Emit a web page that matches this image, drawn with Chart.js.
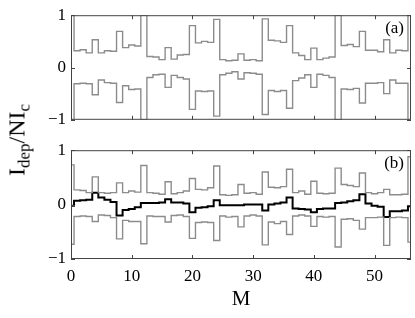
<!DOCTYPE html>
<html>
<head>
<meta charset="utf-8">
<script src="https://cdn.jsdelivr.net/npm/chart.js@4"></script>
<style>
  html, body { margin: 0; padding: 0; background: #fff; }
  #wrap { position: relative; width: 415px; height: 318px; overflow: hidden; }
  #panelA { position: absolute; left: 0; top: 0; }
  #panelB { position: absolute; left: 0; top: 135px; }
  #ylab {
    position: absolute; left: 19px; top: 140px;
    transform: translate(-50%, -50%) rotate(-90deg);
    font: 24px "Liberation Serif", serif; white-space: nowrap; color: #000;
  }
  #ylab sub { font-size: 17px; vertical-align: -5px; }
</style>
</head>
<body>
<div id="wrap">
  <canvas id="panelA" width="415" height="135"></canvas>
  <canvas id="panelB" width="415" height="183"></canvas>
  <div id="ylab">I<sub>dep</sub>/NI<sub>c</sub></div>
</div>
<script>
// M values (x axis)
var M = [0, 1, 2, 3, 4, 5, 6, 7, 8, 9, 10, 11, 12, 13, 14, 15, 16, 17, 18, 19, 20,
         21, 22, 23, 24, 25, 26, 27, 28, 29, 30, 31, 32, 33, 34, 35, 36, 37, 38, 39, 40,
         41, 42, 43, 44, 45, 46, 47, 48, 49, 50, 51, 52, 53, 54, 55, 56];

// panel (a)
var aUpper = [1.00, 0.32, 0.34, 0.28, 0.53, 0.28, 0.32, 0.31, 0.69, 0.38, 0.43, 0.41, 1.00,
              0.21, 0.20, 0.15, 0.38, 0.16, 0.24, 0.25, 0.80, 0.47, 0.50, 0.48, 0.92,
              0.15, 0.13, 0.14, 0.26, 0.14, 0.15, 0.13, 0.93, 0.52, 0.51, 0.48, 0.80,
              0.28, 0.23, 0.15, 0.37, 0.15, 0.18, 0.20, 1.00, 0.42, 0.44, 0.40, 0.69,
              0.33, 0.33, 0.30, 0.53, 0.28, 0.33, 0.32, 1.00];
var aLower = [-1.00, -0.31, -0.30, -0.31, -0.52, -0.24, -0.29, -0.30, -0.67, -0.35, -0.42, -0.41, -1.00,
              -0.19, -0.14, -0.13, -0.38, -0.15, -0.19, -0.22, -0.80, -0.45, -0.46, -0.45, -0.93,
              -0.14, -0.11, -0.08, -0.22, -0.10, -0.11, -0.13, -0.90, -0.44, -0.46, -0.44, -0.78,
              -0.25, -0.20, -0.14, -0.38, -0.13, -0.15, -0.19, -1.00, -0.41, -0.42, -0.40, -0.68,
              -0.30, -0.30, -0.29, -0.50, -0.24, -0.30, -0.30, -1.00];

// panel (b)
var bUpper = [0.73, 0.27, 0.26, 0.22, 0.51, 0.22, 0.21, 0.22, 0.40, 0.22, 0.25, 0.23, 0.72,
              0.22, 0.21, 0.19, 0.42, 0.20, 0.22, 0.25, 0.48, 0.28, 0.27, 0.31, 0.71,
              0.18, 0.17, 0.18, 0.37, 0.21, 0.22, 0.19, 0.60, 0.32, 0.31, 0.33, 0.65,
              0.22, 0.25, 0.19, 0.43, 0.21, 0.20, 0.21, 0.67, 0.37, 0.35, 0.33, 0.58,
              0.22, 0.20, 0.22, 0.28, 0.18, 0.18, 0.19, 0.88];
var bLower = [-0.73, -0.22, -0.21, -0.22, -0.31, -0.19, -0.20, -0.24, -0.63, -0.29, -0.31, -0.31, -0.72,
              -0.21, -0.22, -0.22, -0.32, -0.20, -0.19, -0.22, -0.62, -0.33, -0.32, -0.33, -0.66,
              -0.21, -0.23, -0.22, -0.41, -0.21, -0.19, -0.21, -0.74, -0.32, -0.35, -0.31, -0.55,
              -0.21, -0.19, -0.21, -0.40, -0.22, -0.23, -0.22, -0.78, -0.27, -0.26, -0.29, -0.45,
              -0.24, -0.24, -0.23, -0.75, -0.24, -0.23, -0.24, -0.69];
var bTotal = [-0.02, 0.07, 0.08, 0.09, 0.22, 0.13, 0.09, 0.05, -0.20, -0.10, -0.08, -0.05, 0.03,
              0.03, 0.03, 0.04, 0.10, 0.04, 0.04, 0.02, -0.14, -0.06, -0.05, -0.03, 0.08,
              -0.01, -0.01, -0.01, -0.01, 0.00, 0.00, 0.00, -0.11, 0.00, 0.02, 0.04, 0.13,
              -0.07, -0.08, -0.09, -0.14, -0.08, -0.07, -0.07, 0.03, 0.04, 0.06, 0.08, 0.19,
              0.02, -0.02, -0.04, -0.23, -0.12, -0.12, -0.11, -0.03];

var xTicks = { min: 0, max: 56, step: 10 };
var yTickLabels = { "-1": "\u22121", "0": "0", "1": "1" };

var serif = '"Liberation Serif", "DejaVu Serif", serif';
var gray = "#8c8c8c";

function pts(vals) {
    return M.map(function (m, i) { return { x: m, y: vals[i] }; });
}

function line(vals, color, width) {
    return {
        data: pts(vals),
        borderColor: color,
        borderWidth: width,
        stepped: "middle",
        pointRadius: 0,
        fill: false,
    };
}

// box round the plot with inward ticks, plus the panel tag
var frame = {
    id: "frame",
    afterDraw: function (chart, args, opts) {
        var ctx = chart.ctx, a = chart.chartArea;
        var sx = chart.scales.x, sy = chart.scales.y;
        ctx.save();
        ctx.strokeStyle = "#444";
        ctx.lineWidth = 1;
        ctx.strokeRect(a.left + 0.5, a.top + 0.5, a.right - a.left - 1, a.bottom - a.top - 1);
        ctx.beginPath();
        sx.ticks.forEach(function (t) {
            var px = Math.round(sx.getPixelForValue(t.value)) + 0.5;
            ctx.moveTo(px, a.bottom); ctx.lineTo(px, a.bottom - 4);
            ctx.moveTo(px, a.top); ctx.lineTo(px, a.top + 4);
        });
        sy.ticks.forEach(function (t) {
            var py = Math.round(sy.getPixelForValue(t.value)) + 0.5;
            ctx.moveTo(a.left, py); ctx.lineTo(a.left + 4, py);
            ctx.moveTo(a.right, py); ctx.lineTo(a.right - 4, py);
        });
        ctx.stroke();
        ctx.fillStyle = "#000";
        ctx.font = "17px " + serif;
        ctx.textAlign = "right";
        ctx.textBaseline = "top";
        ctx.fillText(opts.tag, a.right - 7, a.top + 5);
        ctx.restore();
    },
};

function makeChart(id, datasets, tag, showX, topPad, xHeight) {
    return new Chart(document.getElementById(id).getContext("2d"), {
        type: "line",
        data: { datasets: datasets },
        plugins: [frame],
        options: {
            responsive: false,
            animation: false,
            layout: { padding: { top: topPad, right: 4, left: 0, bottom: 0 } },
            plugins: { legend: { display: false }, tooltip: { enabled: false }, frame: { tag: tag } },
            scales: {
                x: {
                    type: "linear",
                    min: xTicks.min,
                    max: xTicks.max,
                    grid: { display: false, drawTicks: false },
                    border: { display: false },
                    ticks: {
                        display: showX,
                        stepSize: xTicks.step,
                        includeBounds: false,
                        color: "#000",
                        padding: 7,
                        maxRotation: 0,
                        font: { family: serif, size: 17 },
                    },
                    title: {
                        display: showX,
                        text: "M",
                        color: "#000",
                        padding: { top: 0, bottom: 6 },
                        font: { family: serif, size: 21 },
                    },
                    afterFit: function (s) { s.height = xHeight; },
                },
                y: {
                    min: -1,
                    max: 1,
                    grid: { display: false, drawTicks: false },
                    border: { display: false },
                    ticks: {
                        stepSize: 1,
                        color: "#000",
                        padding: 5,
                        font: { family: serif, size: 17 },
                        callback: function (v) { return yTickLabels[String(v)]; },
                    },
                    afterFit: function (s) { s.width = 71; },
                },
            },
        },
    });
}

makeChart("panelA", [line(aUpper, gray, 1.4), line(aLower, gray, 1.4)], "(a)", false, 13, 9);
makeChart("panelB", [line(bUpper, gray, 1.4), line(bLower, gray, 1.4), line(bTotal, "#000", 2)], "(b)", true, 13, 59);
</script>
</body>
</html>
